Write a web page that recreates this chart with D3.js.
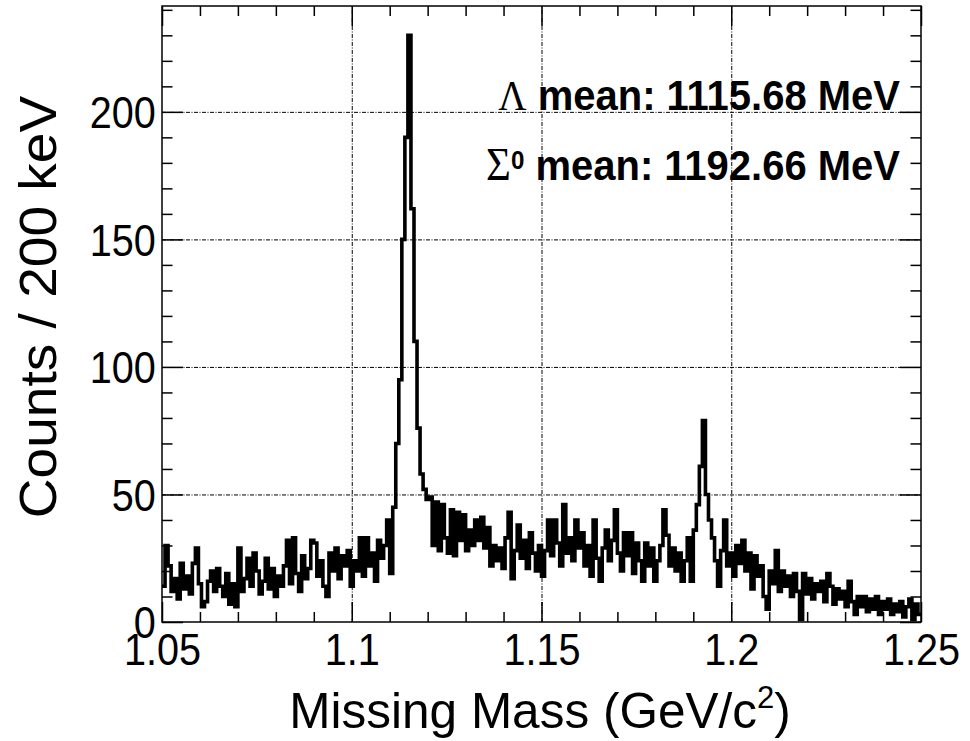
<!DOCTYPE html>
<html>
<head>
<meta charset="utf-8">
<script src="https://d3js.org/d3.v7.min.js"></script>
<style>
  body { margin: 0; background: #fff; }
  svg { display: block; }
  text { font-family: Arial, "Liberation Sans", sans-serif; fill: #000; }
  .grid line { stroke: #000; stroke-width: 1; stroke-dasharray: 4,1.5,1,1.5; }
  .grid .domain { stroke: none; }
  .ticks line { stroke: #000; stroke-width: 1.5; }
  .ticks .domain { stroke: none; }
</style>
</head>
<body>
<svg id="chart" width="970" height="741"></svg>
<script>
// histogram range (GeV/c^2) and bin width
const massMin = 1.05;
const massMax = 1.25;
const binWidth = 0.0008;

// counts per bin
const counts = [
  14, 30, 22, 12, 17, 9, 23, 13, 18, 11,
  23, 29, 15, 6, 8, 16, 20, 12, 21, 14,
  10, 19, 7, 15, 6,
  29, 12, 17, 25, 14, 27, 20, 11, 16, 25,
  13, 21, 10, 18, 14, 22, 32, 15, 33, 19,
  12, 26, 17, 21, 32,
  31, 18, 24, 14, 10, 27, 20, 29, 17, 26, 22, 28, 14,
  24, 20, 33, 18, 33, 22, 27, 16, 32, 25, 30, 40,
  19, 45, 70, 95, 150, 190, 230, 162, 110, 76, 58, 52, 48,
  49, 30, 47, 28, 46, 33, 27, 44, 26, 43, 32, 42, 28, 36, 30, 40, 32, 41, 29,
  37, 22, 30, 24, 29, 21, 33, 43, 17, 28, 38, 25, 32, 21, 35, 27, 20, 30, 18,
  28, 40, 26, 40, 31, 22, 46, 27, 33, 24, 40, 29, 35, 22, 30, 18, 40, 25, 16, 29,
  36, 24, 32, 44, 27, 20, 35, 26, 35, 19, 31, 24, 16, 31, 22, 29, 16, 24,
  30, 44, 34,
  22, 29, 20, 27, 16, 24, 33, 16, 36, 46, 61, 79, 50, 40, 33, 24, 14,
  28, 40, 22, 27, 18, 30, 23, 32, 20, 27, 13, 26, 18, 22, 10, 5,
  20, 15, 28, 12, 20, 14, 18, 10, 19, 12,
  1, 19, 11, 17, 9, 15, 12, 16, 8, 19,
  14, 7, 13, 9, 12, 6, 16, 8, 3, 10,
  6, 10, 4, 9, 5, 10, 3, 8, 5, 9,
  3, 7, 4, 8, 2, 6, 9, 1, 7, 3
];

const xMajor = [1.05, 1.1, 1.15, 1.2, 1.25];
const xLabels = ['1.05', '1.1', '1.15', '1.2', '1.25'];
const xGrid = [1.1, 1.15, 1.2];
const yMajor = [0, 50, 100, 150, 200];
const yGrid = [50, 100, 150, 200];
const yMax = 241.5;

const peakNotes = [
  {sym: 'Λ', sup: '', text: ' mean: 1115.68 MeV'},
  {sym: 'Σ', sup: '0', text: ' mean: 1192.66 MeV'}
];

const svg = d3.select('#chart');
const frame = {left: 162, right: 921, top: 6, bottom: 622};
const w = frame.right - frame.left;
const h = frame.bottom - frame.top;

const x = d3.scaleLinear().domain([massMin, massMax]).range([frame.left, frame.right]);
const y = d3.scaleLinear().domain([0, yMax]).range([frame.bottom, frame.top]);

const xMinor = d3.range(0, 21).map(i => +(massMin + i * 0.01).toFixed(2));
const yMinor = d3.range(0, 25).map(i => i * 10);

// grid
svg.append('g').attr('class', 'grid')
  .attr('transform', `translate(0,${frame.bottom})`)
  .call(d3.axisBottom(x).tickValues(xGrid).tickSize(-h).tickFormat(''));
svg.append('g').attr('class', 'grid')
  .attr('transform', `translate(${frame.left},0)`)
  .call(d3.axisLeft(y).tickValues(yGrid).tickSize(-w).tickFormat(''));

// ticks on all four sides, pointing inward
function tickSet(axisFn, scale, vals, len, tr) {
  svg.append('g').attr('class', 'ticks').attr('transform', tr)
    .call(axisFn(scale).tickValues(vals).tickSize(len).tickFormat(''));
}
const xMinorOnly = xMinor.filter(v => !xMajor.some(m => Math.abs(m - v) < 1e-9));
const yMinorOnly = yMinor.filter(v => v % 50 !== 0);
tickSet(d3.axisBottom, x, xMinorOnly, -10, `translate(0,${frame.bottom})`);
tickSet(d3.axisBottom, x, xMajor, -20, `translate(0,${frame.bottom})`);
tickSet(d3.axisTop, x, xMinorOnly, -10, `translate(0,${frame.top})`);
tickSet(d3.axisTop, x, xMajor, -20, `translate(0,${frame.top})`);
tickSet(d3.axisLeft, y, yMinorOnly, -10.5, `translate(${frame.left},0)`);
tickSet(d3.axisLeft, y, yMajor, -21, `translate(${frame.left},0)`);
tickSet(d3.axisRight, y, yMinorOnly, -10.5, `translate(${frame.right},0)`);
tickSet(d3.axisRight, y, yMajor, -21, `translate(${frame.right},0)`);

// histogram as step line
const pts = [];
counts.forEach((c, i) => {
  pts.push([massMin + i * binWidth, c]);
  pts.push([massMin + (i + 1) * binWidth, c]);
});
svg.append('path')
  .datum(pts)
  .attr('fill', 'none')
  .attr('stroke', '#000')
  .attr('stroke-width', 3.6)
  .attr('stroke-linejoin', 'miter')
  .attr('d', d3.line().x(d => x(d[0])).y(d => y(d[1])));

// frame
svg.append('rect')
  .attr('x', frame.left).attr('y', frame.top)
  .attr('width', w).attr('height', h)
  .attr('fill', 'none').attr('stroke', '#000').attr('stroke-width', 1.5);

// tick labels
const xLab = svg.append('g')
  .attr('transform', `translate(0,${frame.bottom})`)
  .call(d3.axisBottom(x).tickValues(xMajor).tickSize(0).tickPadding(0)
    .tickFormat((d, i) => xLabels[i]));
xLab.select('.domain').remove();
xLab.selectAll('text')
  .attr('y', 43).attr('dy', null)
  .style('font-size', '44px')
  .attr('transform', 'scale(0.9,1)');

const yLab = svg.append('g')
  .attr('transform', `translate(${frame.left},0)`)
  .call(d3.axisLeft(y).tickValues(yMajor).tickSize(0).tickPadding(7));
yLab.select('.domain').remove();
yLab.selectAll('text')
  .attr('dy', '0.36em')
  .style('font-size', '44px')
  .attr('transform', 'scale(0.9,1)');

// axis titles
const xt = svg.append('text')
  .attr('text-anchor', 'middle')
  .attr('transform', 'translate(540,728)')
  .style('font-size', '49.5px');
xt.append('tspan').text('Missing Mass (GeV/c');
xt.append('tspan').attr('dy', -20).style('font-size', '31px').text('2');
xt.append('tspan').attr('dy', 20).text(')');

svg.append('text')
  .attr('text-anchor', 'middle')
  .attr('transform', 'translate(56,307) rotate(-90) scale(1.08,1)')
  .style('font-size', '51px')
  .text('Counts / 200 keV');

// peak annotations
const noteY = [110, 180];
const symSize = [42, 46];
peakNotes.forEach((n, i) => {
  const t = svg.append('text')
    .attr('text-anchor', 'end')
    .attr('transform', `translate(900,${noteY[i]}) scale(0.93,1)`)
    .style('font-size', '43px')
    .style('font-weight', 'bold');
  t.append('tspan')
    .style('font-family', '"Liberation Serif", "Times New Roman", serif')
    .style('font-weight', 'normal')
    .style('font-size', symSize[i] + 'px')
    .text(n.sym);
  if (n.sup) {
    t.append('tspan').attr('dy', -11).style('font-size', '26px').text(n.sup);
    t.append('tspan').attr('dy', 11).text(n.text);
  } else {
    t.append('tspan').text(n.text);
  }
});
</script>
</body>
</html>
